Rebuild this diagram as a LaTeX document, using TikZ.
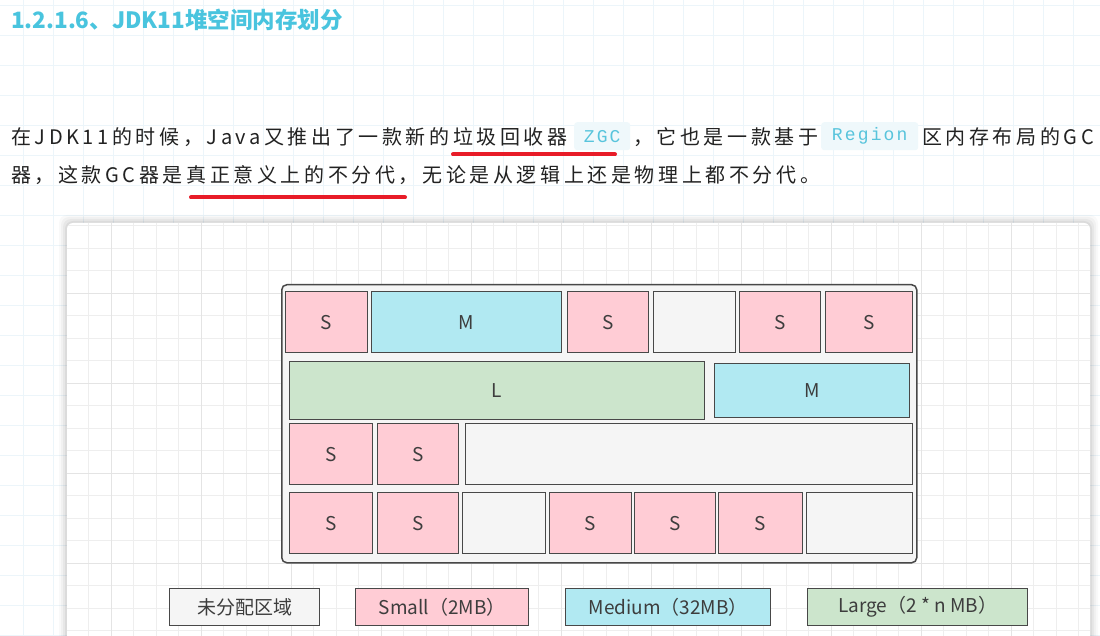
\documentclass[tikz,border=0pt]{standalone}
\usepackage{fontspec}
\setmainfont{Noto Sans CJK SC}
\newfontfamily\bodyfont[LetterSpace=18]{Noto Sans CJK SC}
\newfontfamily\codefont[LetterSpace=12]{Liberation Mono}
\usepackage{tikz}
\definecolor{titlecyan}{RGB}{73,196,222}
\definecolor{inktext}{RGB}{34,34,34}
\definecolor{codebg}{RGB}{239,248,251}
\definecolor{codecyan}{RGB}{88,196,220}
\definecolor{markred}{RGB}{232,28,40}
\definecolor{pagegrid}{RGB}{236,245,250}
\definecolor{cardgrid}{RGB}{238,238,238}
\definecolor{cardmajor}{RGB}{228,228,228}
\definecolor{smallpink}{RGB}{255,204,213}
\definecolor{mediumcyan}{RGB}{177,233,242}
\definecolor{largegreen}{RGB}{204,229,204}
\definecolor{freegray}{RGB}{245,245,245}
\definecolor{edgegray}{RGB}{72,72,72}

\tikzset{
  heapbox/.style={draw=edgegray, line width=1.3pt, anchor=north west, inner sep=0pt,
    text=black!76, font=\fontsize{19}{22}\selectfont},
  sreg/.style={heapbox, fill=smallpink},
  mreg/.style={heapbox, fill=mediumcyan},
  lreg/.style={heapbox, fill=largegreen},
  ereg/.style={heapbox, fill=freegray},
  codebox/.style={fill=codebg, rounded corners=3pt, anchor=north west, inner sep=0pt,
    text=codecyan, font=\codefont\fontsize{18}{22}\selectfont},
  para/.style={anchor=base west, inner sep=0pt, text=inktext,
    font=\bodyfont\fontsize{20}{24}\selectfont},
}

\begin{document}
\begin{tikzpicture}[x=1pt, y=-1pt]
  \useasboundingbox (0,0) rectangle (1100,636);
  \fill[white] (0,0) rectangle (1100,636);
  % page grid
  \foreach \x in {23,53,...,1100} \draw[pagegrid, line width=0.8pt] (\x,0) -- (\x,636);
  \foreach \y in {5,35,...,636} \draw[pagegrid, line width=0.8pt] (0,\y) -- (1100,\y);

  % heading and text
  \node[anchor=base west, inner sep=0pt, text=titlecyan, font=\bfseries\fontsize{22.5}{27}\selectfont]
    (title) at (11,29) {1.2.1.6、JDK11堆空间内存划分};
  \node[para] (p1a) at (11,145) {在JDK11的时候，Java又推出了一款新的垃圾回收器};
  \node[codebox, minimum width=56pt, minimum height=28pt] (zgc) at (574,122) {ZGC};
  \node[para] (p1b) at (633,145) {，它也是一款基于};
  \node[codebox, minimum width=97pt, minimum height=28pt] (rgn) at (821,122) {Region};
  \node[para] (p1c) at (922,145) {区内存布局的GC};
  \node[para] (p2) at (11,183) {器，这款GC器是真正意义上的不分代，无论是从逻辑上还是物理上都不分代。};
  \draw[markred, line width=4pt, line cap=round] (453,154.5) -- (615,154.5);
  \draw[markred, line width=4pt, line cap=round] (191,197.5) -- (405,197.5);

  % card
  \foreach \s/\o in {8/0.025,6/0.03,4/0.04,2/0.05}
    \fill[black, opacity=\o, rounded corners=8pt] (67-\s,223-\s) rectangle (1090+\s,660);
  \fill[white, rounded corners=6pt] (67,223) rectangle (1090,660);
  \begin{scope}
    \clip[rounded corners=6pt] (67,223) rectangle (1090,660);
    \foreach \x in {66,88.5,...,1095} \draw[cardgrid, line width=0.9pt] (\x,223) -- (\x,640);
    \foreach \y in {225.8,248.3,...,640} \draw[cardgrid, line width=0.9pt] (67,\y) -- (1090,\y);
    \foreach \x in {111.5,201.5,...,1095} \draw[cardmajor, line width=0.9pt] (\x,223) -- (\x,640);
    \foreach \y in {203.3,293.3,...,640} \draw[cardmajor, line width=0.9pt] (67,\y) -- (1090,\y);
  \end{scope}

  % heap
  \node[draw=edgegray, line width=1.5pt, fill=freegray, rounded corners=5pt, anchor=north west,
    minimum width=635pt, minimum height=278pt] (heap) at (281,284) {};
  \foreach \x/\w/\k/\t [count=\i] in {285/82/sreg/S, 371/190/mreg/M, 567/81/sreg/S,
      653/82/ereg/{}, 739/81/sreg/S, 825/87/sreg/S}
    \node[\k, minimum width=\w pt, minimum height=61pt] (ra\i) at (\x,291) {\t};
  \node[lreg, minimum width=415pt, minimum height=58pt] (rb1) at (289,361) {L};
  \node[mreg, minimum width=195pt, minimum height=54pt] (rb2) at (714,363) {M};
  \foreach \x/\w/\k/\t [count=\i] in {289/83/sreg/S, 377/81/sreg/S, 465/447/ereg/{}}
    \node[\k, minimum width=\w pt, minimum height=61pt] (rc\i) at (\x,423) {\t};
  \foreach \x/\w/\k/\t [count=\i] in {289/83/sreg/S, 377/81/sreg/S, 462/83/ereg/{},
      549/82/sreg/S, 634/81/sreg/S, 718/84/sreg/S, 806/106/ereg/{}}
    \node[\k, minimum width=\w pt, minimum height=61pt] (rd\i) at (\x,492) {\t};

  % legend
  \foreach \x/\w/\k/\t [count=\i] in {169/150/ereg/未分配区域, 355/173/sreg/{Small（2MB）},
      565/205/mreg/{Medium（32MB）}, 807/220/lreg/{Large（2 * n MB）}}
    \node[\k, minimum width=\w pt, minimum height=37pt] (lg\i) at (\x,588) {\t};
\end{tikzpicture}
\end{document}
